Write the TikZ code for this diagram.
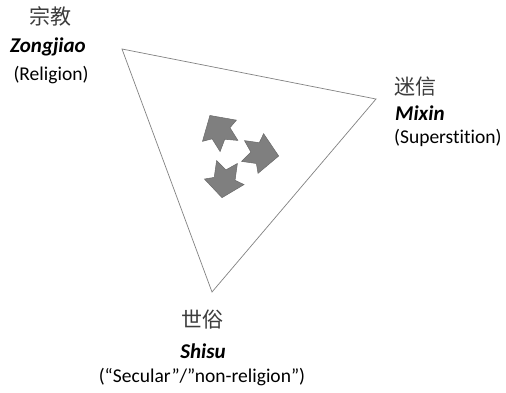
\documentclass[tikz,border=0pt]{standalone}
\usepackage{fontspec}
\setmainfont{Carlito}[Ligatures={NoCommon}]
\newfontfamily\cjk{Noto Sans CJK SC}
\definecolor{arrfill}{RGB}{127,127,127}
\definecolor{arrline}{RGB}{105,105,105}
\definecolor{triline}{RGB}{130,130,130}
\definecolor{cjkcol}{RGB}{60,60,60}
% #1,#2 tail middle, #3 angle, #4 length, #5 head-corner position, #6 junction position
\newcommand{\notcharrow}[6]{%
  \begin{scope}[shift={(#1,#2)},rotate=#3]
    \draw[arrowshape] (0,10.5) -- (#6,10.5) -- (#5,20) -- (#4,0) -- (#5,-20) -- (#6,-10.5) -- (0,-10.5) -- (8,0) -- cycle;
  \end{scope}}
\begin{document}
\begin{tikzpicture}[x=1pt,y=-1pt,
  cjkt/.style={font=\cjk\fontsize{21}{24}\selectfont, text=cjkcol, inner sep=0pt},
  latb/.style={font=\fontsize{21}{24}\selectfont\bfseries\itshape, inner sep=0pt},
  lat/.style={font=\fontsize{19.5}{22}\selectfont, inner sep=0pt},
  arrowshape/.style={fill=arrfill, draw=arrline, line width=0.5pt, line join=miter},
  tri/.style={draw=triline, line width=0.7pt}]
\useasboundingbox (0,0) rectangle (506,392);
\fill[white] (0,0) rectangle (506,392);
% triangle
\coordinate (v1) at (122,49);
\coordinate (v2) at (376,99);
\coordinate (v3) at (212,292);
\draw[tri] (v1) -- (v2) -- (v3) -- cycle;
% arrows
\notcharrow{229}{146}{122}{36}{18}{15}
\notcharrow{243}{151}{-8}{36}{18}{15}
\notcharrow{227}{162}{-98}{36}{20}{17}
% labels
\node[cjkt] (zc) at (50,16) {宗教};
\node[latb] (zp) at (48,47) {Zongjiao};
\node[lat] (ze) at (51,75) {(Religion)};
\node[cjkt, anchor=west] (mc) at (394,87) {迷信};
\node[latb, anchor=west] (mp) at (395,113) {Mixin};
\node[lat, anchor=west] (me) at (394,138) {(Superstition)};
\node[cjkt] (sc) at (202,320) {世俗};
\node[latb] (sp) at (203,351) {Shisu};
\node[lat] (se) at (202,377) {(“Secular”/”non-religion”)};
\end{tikzpicture}
\end{document}
